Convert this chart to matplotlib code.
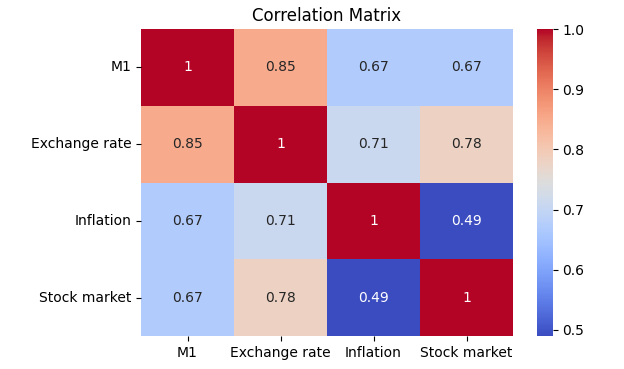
import numpy as np
import pandas as pd
import matplotlib
matplotlib.use("Agg")
import matplotlib.pyplot as plt
import seaborn as sns

labels = ["M1", "Exchange rate", "Inflation", "Stock market"]
row_m1 = [1.0, 0.85, 0.67, 0.67]
row_fx = [0.85, 1.0, 0.71, 0.78]
row_infl = [0.67, 0.71, 1.0, 0.49]
row_stock = [0.67, 0.78, 0.49, 1.0]

corr = pd.DataFrame([row_m1, row_fx, row_infl, row_stock], index=labels, columns=labels)

fig = plt.figure(figsize=(6.24, 3.69), dpi=100)
ax = fig.add_axes([141 / 624, 1 - 336 / 369, (513 - 141) / 624, (336 - 29) / 369])
cax = fig.add_axes([537 / 624, 1 - 336 / 369, 15.5 / 624, (336 - 29) / 369])

sns.heatmap(corr, annot=True, cmap="coolwarm", ax=ax, cbar_ax=cax)
ax.set_title("Correlation Matrix")

fig.savefig("out.png", dpi=100)
